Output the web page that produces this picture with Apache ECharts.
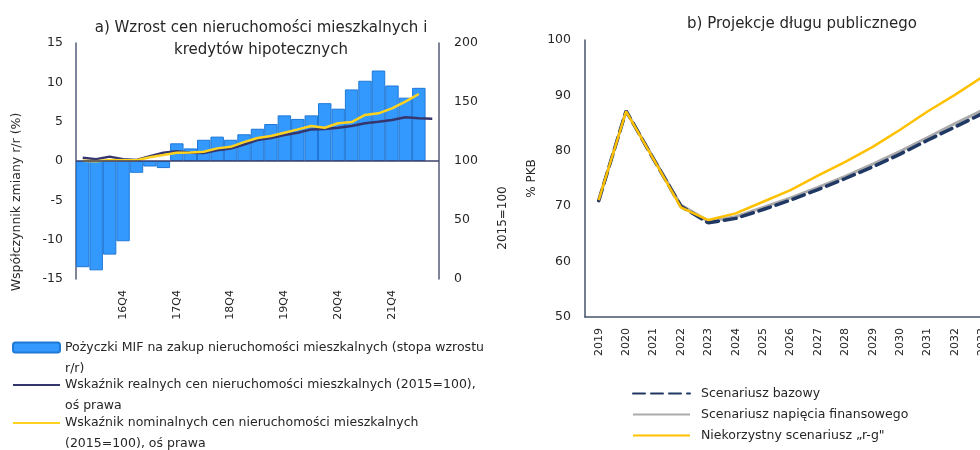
<!DOCTYPE html>
<html><head><meta charset="utf-8">
<script src="https://cdn.jsdelivr.net/npm/echarts@6/dist/echarts.min.js"></script>
<style>html,body{margin:0;padding:0;background:#fff}#c{width:980px;height:450px}</style>
</head><body><div id="c"></div>
<script>
// ---- Panel a) data ----
const quarters = ['16Q1','16Q2','16Q3','16Q4','17Q1','17Q2','17Q3','17Q4','18Q1','18Q2','18Q3','18Q4','19Q1','19Q2','19Q3','19Q4','20Q1','20Q2','20Q3','20Q4','21Q1','21Q2','21Q3','21Q4','22Q1','22Q2','22Q3'];
const loansGrowth = [-13.5,-13.9,-11.9,-10.2,-1.5,-0.7,-0.9,2.25,1.6,2.7,3.1,2.7,3.4,4.1,4.7,5.8,5.35,5.8,7.35,6.65,9.1,10.2,11.5,9.6,8.05,9.3,null];
const realPrices = [102.8,101.4,103.7,101.4,100.8,104,107,108.2,107,106.8,109,110.5,114,117.8,119.5,122,124,126.8,127.1,128.2,129.7,132,133.3,134.7,137,136.2,135.8];
const nominalPrices = [100.3,99.7,100.8,100.6,100.6,103.1,105,107,107.3,107.9,110.7,112,116,119.5,121.2,124,126.8,129.7,128.2,132,133,139,140.4,144.6,150.3,156.8,null];
const leftTicks = {min:-15, max:15, interval:5};
const rightTicks = {min:0, max:200, interval:50};

// ---- Panel b) data ----
const years = ['2019','2020','2021','2022','2023','2024','2025','2026','2027','2028','2029','2030','2031','2032','2033'];
const baseScenario = [71,87.2,78.5,70,67.0,67.8,69.4,71.1,73.0,75.0,77.1,79.4,81.9,84.3,86.7];
const stressScenario = [71,87.2,78.7,70.2,67.3,68.1,69.8,71.5,73.4,75.4,77.6,79.9,82.4,84.9,87.3];
const rgScenario = [71.1,87.1,78.5,69.8,67.5,68.7,70.8,72.9,75.5,78,80.7,83.8,87.1,90.1,93.3];
const debtTicks = {min:50, max:100, interval:10};

const N1 = 'Pożyczki MIF na zakup nieruchomości mieszkalnych (stopa wzrostu\nr/r)';
const N2 = 'Wskaźnik realnych cen nieruchomości mieszkalnych (2015=100),\noś prawa';
const N3 = 'Wskaźnik nominalnych cen nieruchomości mieszkalnych\n(2015=100), oś prawa';
const B1 = 'Scenariusz bazowy';
const B2 = 'Scenariusz napięcia finansowego';
const B3 = 'Niekorzystny scenariusz „r-g"';

const FONT = 'DejaVu Sans';
const TXT = '#262626';
const axisA = {show:true, lineStyle:{color:'#565b76', width:1.5}};
const axisB = {show:true, lineStyle:{color:'#44546A', width:1.5}};
const LH = 21;
function legendA(name, iconCenter, hideSymbol){
  const lg = {
    data:[name], orient:'vertical', left:12, top: iconCenter - 1.5*LH, padding:0,
    itemWidth:47, itemHeight:10, selectedMode:false,
    formatter:(n)=> '\n' + n,
    textStyle:{fontFamily:FONT, fontSize:12.5, color:TXT, lineHeight:LH}
  };
  if (hideSymbol) lg.itemStyle = {opacity:0};
  return lg;
}

const chart = echarts.init(document.getElementById('c'), null, {renderer:'canvas'});
chart.setOption({
  animation:false,
  textStyle:{fontFamily:FONT},
  title:[
    {text:'a) Wzrost cen nieruchomości mieszkalnych i\nkredytów hipotecznych', left:256, textAlign:'center', top:12,
     textStyle:{fontFamily:FONT, fontSize:15, fontWeight:'normal', color:TXT, lineHeight:22}},
    {text:'b) Projekcje długu publicznego', left:797, textAlign:'center', top:8,
     textStyle:{fontFamily:FONT, fontSize:15, fontWeight:'normal', color:TXT, lineHeight:22}}
  ],
  grid:[
    {left:76, top:43, width:363, height:236, outerBoundsMode:'none'},
    {left:585, top:40, right:-16, bottom:133, outerBoundsMode:'none'}
  ],
  legend:[
    legendA(N1, 347.5, false),
    legendA(N2, 385, true),
    legendA(N3, 423, true),
    {data:[B1,B2,B3], orient:'vertical', left:632, top:387, padding:0, itemGap:8,
     itemWidth:57, itemHeight:12, selectedMode:false, itemStyle:{opacity:0},
     textStyle:{fontFamily:FONT, fontSize:12.5, color:TXT, padding:[0,0,0,6]}}
  ],
  graphic:[
    {type:'text', x:17, y:202, rotation:Math.PI/2, style:{text:'Współczynnik zmiany r/r (%)', fontFamily:FONT, fontSize:12.5, fill:TXT, align:'center', verticalAlign:'middle'}},
    {type:'text', x:503, y:218, rotation:Math.PI/2, style:{text:'2015=100', fontFamily:FONT, fontSize:12, fill:TXT, align:'center', verticalAlign:'middle'}}
  ],
  xAxis:[
    {type:'category', gridIndex:0, data:quarters, boundaryGap:true,
     axisLine:{show:false}, axisTick:{show:false}, splitLine:{show:false},
     axisLabel:{rotate:90, margin:11, fontSize:11, color:TXT, interval:(i)=> i % 4 === 3}},
    {type:'category', gridIndex:1, data:years, boundaryGap:true,
     axisLine:axisB, axisTick:{show:false}, splitLine:{show:false},
     axisLabel:{rotate:90, margin:11, fontSize:11, color:TXT, interval:0}}
  ],
  yAxis:[
    {type:'value', gridIndex:0, position:'left', min:leftTicks.min, max:leftTicks.max, interval:leftTicks.interval,
     axisLine:axisA, axisTick:{show:false}, splitLine:{show:false},
     axisLabel:{fontSize:12.5, color:TXT, margin:13}},
    {type:'value', gridIndex:0, position:'right', min:rightTicks.min, max:rightTicks.max, interval:rightTicks.interval,
     axisLine:axisA, axisTick:{show:false}, splitLine:{show:false},
     axisLabel:{fontSize:12.5, color:TXT, margin:15}},
    {type:'value', gridIndex:1, min:debtTicks.min, max:debtTicks.max, interval:debtTicks.interval,
     name:'% PKB', nameLocation:'middle', nameGap:47, nameTextStyle:{fontFamily:FONT, fontSize:12, color:TXT},
     axisLine:axisB, axisTick:{show:false}, splitLine:{show:false},
     axisLabel:{fontSize:12.5, color:TXT, margin:14}}
  ],
  series:[
    {name:N1, type:'bar', xAxisIndex:0, yAxisIndex:0, data:loansGrowth, barCategoryGap:'0%',
     itemStyle:{color:'#3399FF', borderColor:'#1F78D6', borderWidth:1},
     markLine:{silent:true, symbol:'none', label:{show:false}, lineStyle:{color:'#3B3F6B', width:1.5, type:'solid'}, data:[{yAxis:0}]}},
    {name:N2, type:'line', xAxisIndex:0, yAxisIndex:1, data:realPrices, symbol:'none', z:3,
     lineStyle:{color:'#35366E', width:2.5}, itemStyle:{color:'#35366E'}},
    {name:N3, type:'line', xAxisIndex:0, yAxisIndex:1, data:nominalPrices, symbol:'none', z:4,
     lineStyle:{color:'#FFD21F', width:2.5}, itemStyle:{color:'#FFD21F'}},
    {name:B2, type:'line', xAxisIndex:1, yAxisIndex:2, data:stressScenario, symbol:'none', z:2,
     lineStyle:{color:'#ABABAB', width:3}, itemStyle:{color:'#ABABAB'}},
    {name:B1, type:'line', xAxisIndex:1, yAxisIndex:2, data:baseScenario, symbol:'none', z:3,
     lineStyle:{color:'#1F3864', width:3.5, type:[12,6], cap:'round'}, itemStyle:{color:'#1F3864'}},
    {name:B3, type:'line', xAxisIndex:1, yAxisIndex:2, data:rgScenario, symbol:'none', z:4,
     lineStyle:{color:'#FFC000', width:2.5}, itemStyle:{color:'#FFC000'}}
  ]
});
</script></body></html>
